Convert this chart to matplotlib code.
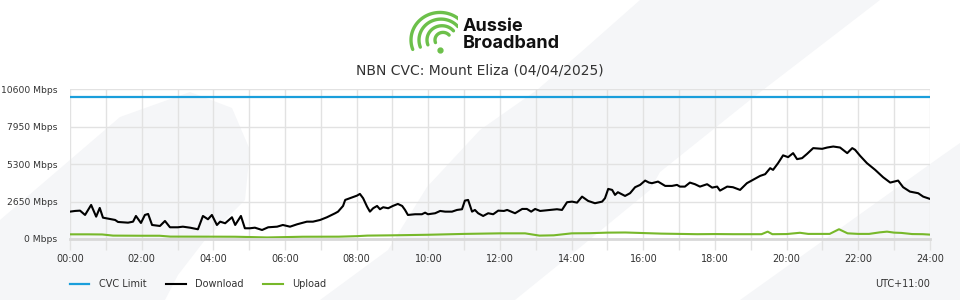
import numpy as np
import matplotlib.pyplot as plt
from matplotlib.patches import Polygon

# --- data ---
cvc_hours = [0, 24]
cvc_mbps = [10000, 10000]

dl_hours = [0.0, 0.14, 0.28, 0.42, 0.59, 0.73, 0.83, 0.92, 1.12, 1.26, 1.34, 1.62, 1.76, 1.84,
            1.98, 2.09, 2.18, 2.29, 2.51, 2.65, 2.79, 3.01, 3.15, 3.35, 3.57, 3.71, 3.85, 3.96,
            4.10, 4.19, 4.33, 4.52, 4.61, 4.77, 4.88, 5.02, 5.16, 5.36, 5.53, 5.78, 5.94, 6.14,
            6.34, 6.61, 6.78, 6.98, 7.17, 7.40, 7.48, 7.62, 7.68, 7.81, 8.01, 8.09, 8.18, 8.29,
            8.37, 8.46, 8.57, 8.65, 8.74, 8.88, 9.01, 9.15, 9.27, 9.35, 9.43, 9.63, 9.82, 9.91,
            9.99, 10.19, 10.33, 10.47, 10.66, 10.80, 10.94, 11.02, 11.11, 11.22, 11.30, 11.39,
            11.53, 11.67, 11.81, 11.95, 12.11, 12.20, 12.42, 12.62, 12.75, 12.87, 12.98, 13.12,
            13.40, 13.59, 13.73, 13.87, 14.01, 14.15, 14.29, 14.46, 14.65, 14.85, 14.93, 15.02,
            15.13, 15.21, 15.29, 15.49, 15.63, 15.77, 15.91, 16.05, 16.16, 16.24, 16.41, 16.61,
            16.80, 16.94, 17.02, 17.16, 17.30, 17.44, 17.58, 17.78, 17.92, 18.06, 18.14, 18.34,
            18.50, 18.70, 18.89, 19.06, 19.26, 19.40, 19.54, 19.62, 19.76, 19.90, 20.04, 20.18,
            20.29, 20.43, 20.57, 20.74, 20.99, 21.13, 21.30, 21.49, 21.69, 21.83, 21.91, 22.05,
            22.24, 22.47, 22.69, 22.89, 23.11, 23.25, 23.44, 23.67, 23.81, 24.0]
dl_mbps = [1933, 1982, 2004, 1699, 2407, 1579, 2195, 1508, 1416, 1345, 1204, 1154, 1225, 1628,
           1133, 1699, 1770, 991, 920, 1274, 828, 828, 871, 800, 687, 1628, 1395, 1699,
           991, 1225, 1112, 1536, 991, 1628, 758, 758, 800, 637, 828, 871, 991, 871,
           1041, 1225, 1225, 1345, 1536, 1820, 1933, 2336, 2761, 2882, 3066, 3186, 2882, 2287,
           1933, 2174, 2336, 2103, 2244, 2174, 2336, 2478, 2336, 2053, 1699, 1749, 1749, 1862,
           1749, 1820, 1982, 1933, 1933, 2053, 2103, 2712, 2761, 1933, 2053, 1820,
           1628, 1820, 1749, 2004, 1982, 2053, 1820, 2124, 2124, 1933, 2124, 1982,
           2053, 2103, 2053, 2598, 2641, 2570, 2995, 2690, 2528, 2641, 2882, 3540,
           3469, 3115, 3306, 3044, 3236, 3660, 3823, 4128, 3986, 3944, 4057, 3752,
           3752, 3823, 3703, 3703, 3986, 3873, 3703, 3873, 3632, 3703, 3420, 3703,
           3660, 3469, 3944, 4177, 4460, 4581, 5006, 4885, 5360, 5912, 5784, 6068,
           5643, 5714, 6018, 6422, 6372, 6464, 6535, 6464, 6068, 6422, 6301, 5876,
           5360, 4885, 4368, 3986, 4128, 3660, 3349, 3236, 2995, 2832]

ul_hours = [0, 0.5, 0.9, 1.2, 2.0, 2.5, 2.8, 4.0, 4.6, 5.0, 5.5, 6.5, 7.5, 8.0, 8.3, 9.0, 10.0,
            10.5, 11.0, 11.5, 12.0, 12.7, 13.1, 13.5, 14.0, 14.5, 15.0, 15.5, 16.0, 16.5, 17.0,
            17.5, 18.0, 18.5, 19.0, 19.3, 19.47, 19.6, 20.0, 20.37, 20.6, 21.2, 21.46, 21.7,
            22.0, 22.3, 22.6, 22.8, 23.0, 23.2, 23.5, 23.8, 24.0]
ul_mbps = [330, 330, 320, 240, 230, 230, 170, 165, 160, 140, 110, 160, 165, 200, 240, 260, 300,
           330, 360, 380, 400, 400, 240, 260, 400, 410, 450, 460, 420, 380, 360,
           340, 350, 340, 340, 340, 520, 340, 350, 440, 360, 360, 690, 400,
           360, 360, 470, 520, 450, 430, 350, 340, 310]

y_ticks = [0, 2650, 5300, 7950, 10600]
x_labels = ['00:00', '02:00', '04:00', '06:00', '08:00', '10:00', '12:00',
            '14:00', '16:00', '18:00', '20:00', '22:00', '24:00']

W, H = 960, 300


def px(x, y):
    return (x / W, 1 - y / H)


fig = plt.figure(figsize=(9.6, 3.0), dpi=100)
fig.patch.set_facecolor('white')

# decorative background bands
bands = [
    [(0, 300), (0, 220), (120, 117), (190, 92), (232, 108), (250, 150), (245, 200),
     (205, 240), (178, 275), (165, 300)],
    [(320, 300), (388, 250), (427, 187), (480, 130), (537, 90), (580, 53), (640, 0),
     (880, 0), (750, 100), (660, 172), (650, 190), (583, 245), (515, 300)],
    [(740, 300), (960, 300), (960, 143), (940, 157), (810, 250)],
]
for pts in bands:
    fig.add_artist(Polygon([px(*p) for p in pts], closed=True, transform=fig.transFigure,
                           facecolor='#f5f6f8', edgecolor='none', zorder=-1))

ax = fig.add_axes([70 / W, 1 - 239 / H, 860 / W, 150 / H])
ax.set_facecolor('none')
ax.set_xlim(0, 24)
ax.set_ylim(0, 10600)
ax.set_xticks(np.arange(0, 25, 2))
ax.set_xticks(np.arange(0, 25, 1), minor=True)
ax.set_xticklabels(x_labels)
ax.set_yticks(y_ticks)
ax.set_yticklabels([f'{v} Mbps' for v in y_ticks])
ax.grid(True, which='both', color='#e2e2e2', lw=1)
ax.set_axisbelow(True)
for s in ['top', 'right', 'left']:
    ax.spines[s].set_visible(False)
ax.spines['bottom'].set_color('#d8d8d8')
ax.spines['bottom'].set_linewidth(2)
ax.tick_params(axis='x', which='both', length=8, color='#e2e2e2', width=1,
               labelsize=7, labelcolor='#333333', pad=3)
ax.tick_params(axis='y', length=0, labelsize=6.6, labelcolor='#333333', pad=9)

l1, = ax.plot(cvc_hours, cvc_mbps, color='#1a9edb', lw=1.6, label='CVC Limit')
l2, = ax.plot(dl_hours, dl_mbps, color='black', lw=1.5, label='Download')
l3, = ax.plot(ul_hours, ul_mbps, color='#77b82a', lw=1.5, label='Upload')

fig.legend(handles=[l1, l2, l3], loc='center left', bbox_to_anchor=px(70, 284), ncol=3,
           frameon=False, fontsize=7, handlelength=2.0, handletextpad=1.0,
           columnspacing=2.0, borderpad=0, borderaxespad=0, labelcolor='#333333')
fig.text(930 / W, 1 - 284 / H, 'UTC+11:00', ha='right', va='center', fontsize=7,
         color='#333333')

fig.text(0.5, 1 - 70 / H, 'NBN CVC: Mount Eliza (04/04/2025)', ha='center', va='center',
         fontsize=10, color='#333333')

# logo
lg = fig.add_axes([396 / W, 1 - 58 / H, 62 / W, 52 / H])
lg.set_xlim(396, 458)
lg.set_ylim(58, 6)
lg.axis('off')
green = '#6cc04a'
t = np.radians(np.linspace(40, 200, 60))
for r, dx in zip([8, 15, 22, 29], [0, 1, 2, 3]):
    lg.plot(443 - dx + r * np.cos(t), 40 - r * np.sin(t) * 0.95, color=green, lw=2.4,
            solid_capstyle='round')
lg.plot([440], [50], 'o', color=green, ms=3.5)

fig.text(463 / W, 1 - 31 / H, 'Aussie', fontsize=13, fontweight='bold', family='Inter',
         va='baseline', color='#111111')
fig.text(463 / W, 1 - 48 / H, 'Broadband', fontsize=13, fontweight='bold', family='Inter',
         va='baseline', color='#111111')

fig.savefig('out.png', dpi=100)
